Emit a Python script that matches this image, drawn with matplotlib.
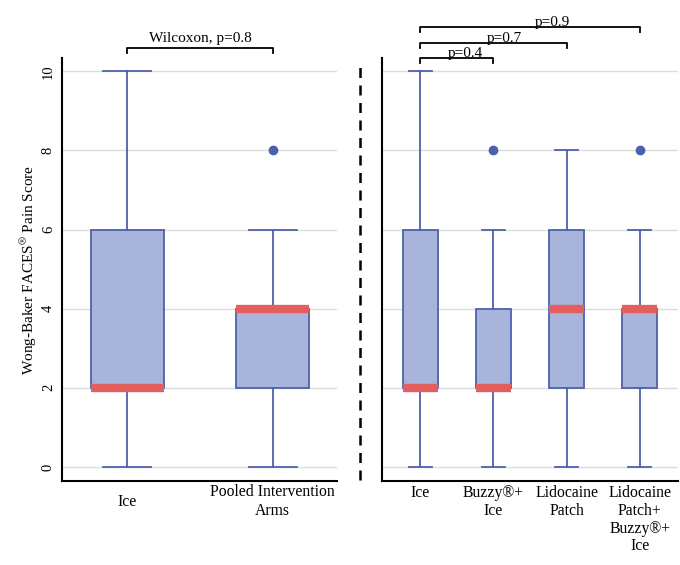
import matplotlib.pyplot as plt
from matplotlib.lines import Line2D

plt.rcParams['font.family'] = ['Liberation Serif', 'DejaVu Serif']
plt.rcParams['mathtext.fontset'] = 'stix'

##### Data #####
left_labels = ["Ice", "Pooled Intervention\nArms"]
left_whislo = [0, 0]
left_q1 = [2, 2]
left_med = [2, 4]
left_q3 = [6, 4]
left_whishi = [10, 6]
left_fliers = [[], [8]]

right_labels = ["Ice", "Buzzy®+\nIce", "Lidocaine\nPatch", "Lidocaine\nPatch+\nBuzzy®+\nIce"]
right_whislo = [0, 0, 0, 0]
right_q1 = [2, 2, 2, 2]
right_med = [2, 2, 4, 4]
right_q3 = [6, 4, 6, 4]
right_whishi = [10, 6, 8, 6]
right_fliers = [[], [8], [], [8]]

left_test = "Wilcoxon, p=0.8"
right_tests = ["p=0.4", "p=0.7", "p=0.9"]
right_pairs = [(0, 1), (0, 2), (0, 3)]

box_fill = "#a8b4da"
box_edge = "#4d60ae"
med_col = "#e35f5f"
grid_col = "#dcdcdc"


def make_stats(whislo, q1, med, q3, whishi, fliers):
    stats = []
    for i in range(len(med)):
        stats.append({"whislo": whislo[i], "q1": q1[i], "med": med[i],
                      "q3": q3[i], "whishi": whishi[i], "fliers": fliers[i]})
    return stats


def draw_boxes(ax, stats, width):
    ax.bxp(stats, positions=range(len(stats)), widths=width, patch_artist=True,
           showfliers=True, capwidths=width * 0.66,
           boxprops=dict(facecolor=box_fill, edgecolor=box_edge, linewidth=1.3),
           whiskerprops=dict(color=box_edge, linewidth=1.3),
           capprops=dict(color=box_edge, linewidth=1.3),
           medianprops=dict(color=med_col, linewidth=6, solid_capstyle="butt"),
           flierprops=dict(marker="o", markerfacecolor=box_edge, markeredgecolor=box_edge,
                           markersize=6))


def style_axes(ax):
    ax.set_ylim(-0.35, 10.33)
    ax.set_yticks(range(0, 11, 2))
    ax.yaxis.grid(True, color=grid_col, linewidth=1)
    ax.set_axisbelow(True)
    for s in ["top", "right"]:
        ax.spines[s].set_visible(False)
    for s in ["left", "bottom"]:
        ax.spines[s].set_linewidth(1.5)
    ax.tick_params(length=0, labelsize=10.5)


fig = plt.figure(figsize=(6.8, 5.65), dpi=100)
ax1 = fig.add_axes([0.091, 0.149, 0.404, 0.748])
ax2 = fig.add_axes([0.562, 0.149, 0.435, 0.748])

draw_boxes(ax1, make_stats(left_whislo, left_q1, left_med, left_q3, left_whishi, left_fliers), 0.5)
draw_boxes(ax2, make_stats(right_whislo, right_q1, right_med, right_q3, right_whishi, right_fliers), 0.48)

style_axes(ax1)
style_axes(ax2)
ax1.set_xlim(-0.45, 1.44)
ax2.set_xlim(-0.52, 3.52)

ax1.set_xticks(range(len(left_labels)))
ax1.set_xticklabels(left_labels, va="center", linespacing=1.3, fontsize=11.3)
ax1.tick_params(axis="x", pad=15)
ax2.set_xticks(range(len(right_labels)))
ax2.set_xticklabels(right_labels, linespacing=1.15, fontsize=11.3)
ax2.tick_params(axis="x", pad=3)
ax2.set_yticklabels([])

for lab in ax1.get_yticklabels():
    lab.set_rotation(90)
    lab.set_va("center")
ax1.tick_params(axis="y", pad=5)
ax1.set_ylabel("Wong-Baker FACES$^{\\circledR}$ Pain Score", fontsize=11, labelpad=2)

# Significance brackets
ax1.plot([0, 0, 1, 1], [10.45, 10.58, 10.58, 10.45], color="black", lw=1.3, clip_on=False)
ax1.text(0.5, 10.66, left_test, ha="center", va="bottom", fontsize=11)

levels = [10.33, 10.71, 11.11]
text_shift = [0.12, 0.15, 0.3]
for (a, b), p, y, dx in zip(right_pairs, right_tests, levels, text_shift):
    ax2.plot([a, a, b, b], [y - 0.12, y, y, y - 0.12], color="black", lw=1.3, clip_on=False)
    ax2.text((a + b) / 2 + dx, y - 0.04, p, ha="center", va="bottom", fontsize=11)

# dashed separator
fig.add_artist(Line2D([0.529, 0.529], [1 - 480 / 565, 1 - 60 / 565], color="black",
                      lw=1.8, linestyle=(0, (4, 3)), transform=fig.transFigure))

fig.savefig("out.png", dpi=100)
